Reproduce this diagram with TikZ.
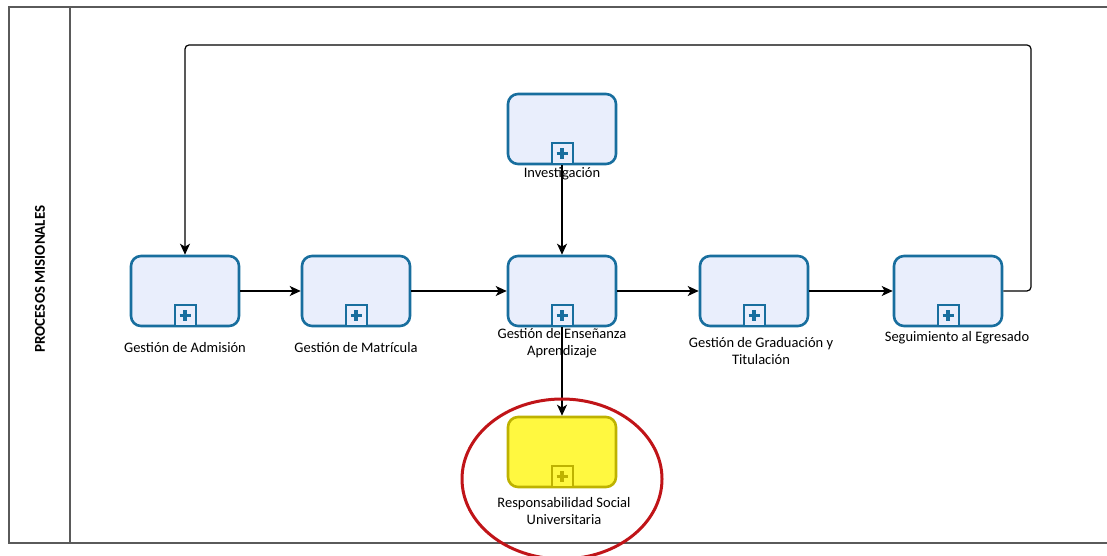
\documentclass[tikz,border=0pt]{standalone}
\usepackage{fontspec}
\setmainfont{Carlito}
\usepackage{tikz}
\usetikzlibrary{arrows.meta,calc,positioning}
\definecolor{bpmblue}{RGB}{24,110,158}
\definecolor{bpmfill}{RGB}{233,238,252}
\definecolor{bpmyellow}{RGB}{255,248,64}
\definecolor{bpmolive}{RGB}{190,178,0}
\definecolor{lanegray}{RGB}{90,90,90}
\definecolor{markred}{RGB}{192,20,24}

\begin{document}
\begin{tikzpicture}[x=1pt, y=1pt,
      task/.style={rectangle, rounded corners=10pt, draw=bpmblue, fill=bpmfill, minimum width=108pt, minimum height=70pt, line width=2.6pt},
      rsu/.style={task, draw=bpmolive, fill=bpmyellow},
      plusbox/.style 2 args={rectangle, draw=#1, fill=#2, minimum size=21pt, inner sep=0pt, line width=2pt,
        path picture={\draw[#1, line width=3.4pt] ($(path picture bounding box.center)+(-5.5,0)$) -- ($(path picture bounding box.center)+(5.5,0)$)
          ($(path picture bounding box.center)+(0,-5.5)$) -- ($(path picture bounding box.center)+(0,5.5)$);}},
      lbl/.style={align=center, font=\fontsize{14.5}{17}\selectfont, inner sep=1pt},
      flow/.style={-{Stealth[length=11pt, width=10pt, inset=3pt]}, line width=1.2pt, black}
    ]
      \useasboundingbox (0,0) rectangle (1107,556);

      % pool and lane
      \draw[lanegray, line width=1.6pt] (1107,549) -- (9,549) -- (9,13) -- (1107,13);
      \draw[lanegray, line width=1.6pt] (70,549) -- (70,13);
      \node[rotate=90, font=\fontsize{15}{17}\selectfont\bfseries] (lane) at (40,277) {PROCESOS MISIONALES};

      % subprocesses
      \node[task] (adm) at (185,265) {};
      \node[task] (mat) at (356,265) {};
      \node[task] (ens) at (562,265) {};
      \node[task] (gra) at (754,265) {};
      \node[task] (seg) at (948,265) {};
      \node[task] (inv) at (562,427) {};
      \node[rsu] (rsu) at (562,104) {};

      \foreach \n in {adm,mat,ens,gra,seg,inv}
        \node[plusbox={bpmblue}{bpmfill}, anchor=south] (\n-plus) at ($(\n.south)+(0,0.3)$) {};
      \node[plusbox={bpmolive}{bpmyellow}, anchor=south] (rsu-plus) at ($(rsu.south)+(0,0.3)$) {};

      % labels
      \node[lbl] (adm-t) at (185,208) {Gestión de Admisión};
      \node[lbl] (mat-t) at (356,208) {Gestión de Matrícula};
      \node[lbl] (ens-t) at (562,212.5) {Gestión de Enseñanza\\Aprendizaje};
      \node[lbl] (gra-t) at (761,205) {Gestión de Graduación y\\Titulación};
      \node[lbl] (seg-t) at (957,218) {Seguimiento al Egresado};
      \node[lbl] (inv-t) at (562,382) {Investigación};
      \node[lbl] (rsu-t) at (564,44.5) {Responsabilidad Social\\Universitaria};

      % sequence flows
      \draw[flow] (adm) -- (mat);
      \draw[flow] (mat) -- (ens);
      \draw[flow] (ens) -- (gra);
      \draw[flow] (gra) -- (seg);
      \draw[flow] (inv) -- (ens);
      \draw[flow] (ens) -- (rsu);
      \draw[flow, rounded corners=4pt] (seg.east) -| (1031,511) -| (adm.north);

      % highlight
      \draw[markred, line width=3pt] (562,77) ellipse (100 and 80);
    \end{tikzpicture}
\end{document}
